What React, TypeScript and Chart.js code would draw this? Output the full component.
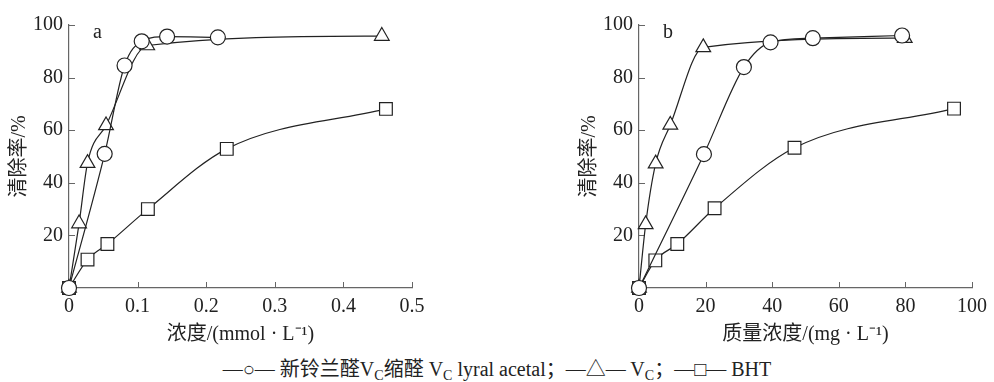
import React, { useEffect, useRef } from 'react';
import { Chart, registerables } from 'chart.js';

Chart.register(...registerables);

const FONT = "'Liberation Serif', 'Noto Sans CJK SC', serif";
const TEXT = '#222';
const AXIS = '#666';

// ---- Panel a (mmol/L) ----
const aLyralX = [0, 0.052, 0.081, 0.106, 0.143, 0.217];
const aLyralY = [0, 51, 84.6, 93.8, 95.6, 95.3];
const aVcX = [0, 0.0147, 0.027, 0.054, 0.114, 0.456];
const aVcY = [0, 24.5, 47.5, 61.8, 92.2, 95.8];
const aBhtX = [0, 0.027, 0.056, 0.115, 0.23, 0.462];
const aBhtY = [0, 10.8, 16.7, 30, 52.9, 68.1];
const aXTicks = [0, 0.1, 0.2, 0.3, 0.4, 0.5];

// ---- Panel b (mg/L) ----
const bLyralX = [0, 19.5, 31.5, 39.5, 52.2, 79];
const bLyralY = [0, 50.9, 84, 93.4, 95, 96];
const bVcX = [0, 2, 5, 9.4, 19.3, 79.8];
const bVcY = [0, 24.2, 47.3, 62, 91.5, 95];
const bBhtX = [0, 4.9, 11.5, 22.7, 46.7, 94.6];
const bBhtY = [0, 10.5, 16.7, 30.3, 53.3, 68.2];
const bXTicks = [0, 20, 40, 60, 80, 100];

const yTicks = [20, 40, 60, 80, 100];

const zip = (xs: number[], ys: number[]) => xs.map((x, i) => ({ x, y: ys[i] }));

const innerTicks = {
  id: 'innerTicks',
  beforeDatasetsDraw(chart: any, _args: any, opts: any) {
    const { ctx, chartArea, scales } = chart;
    const xs = scales.x;
    const ys = scales.y;
    ctx.save();
    ctx.strokeStyle = AXIS;
    ctx.lineWidth = 1;
    ctx.beginPath();
    xs.ticks.forEach((t: any) => {
      if (t.value === 0) return;
      const px = Math.round(xs.getPixelForValue(t.value)) + 0.5;
      ctx.moveTo(px, chartArea.bottom);
      ctx.lineTo(px, chartArea.bottom - 6);
    });
    ys.ticks.forEach((t: any) => {
      const py = Math.round(ys.getPixelForValue(t.value)) + 0.5;
      ctx.moveTo(chartArea.left, py);
      ctx.lineTo(chartArea.left + 6, py);
    });
    ctx.stroke();
    ctx.fillStyle = TEXT;
    ctx.font = `20px ${FONT}`;
    ctx.textBaseline = 'middle';
    ctx.textAlign = 'left';
    ctx.fillText(opts.letter || '', chartArea.left + 24, chartArea.top + 8);
    ctx.restore();
  },
};

const ds = (label: string, data: any[], style: string, radius: number) => ({
  label,
  data,
  borderColor: TEXT,
  borderWidth: 1.2,
  pointStyle: style,
  pointRadius: radius,
  pointBorderWidth: 1.2,
  pointBorderColor: TEXT,
  pointBackgroundColor: '#fff',
  cubicInterpolationMode: 'monotone' as const,
  clip: false as const,
});

function makeConfig(
  letter: string,
  lyral: any[],
  vc: any[],
  bht: any[],
  xTicks: number[],
  xTitle: string,
  padRight: number
): any {
  return {
    type: 'line',
    data: {
      datasets: [
        ds('新铃兰醛VC缩醛', lyral, 'circle', 7.5),
        ds('VC', vc, 'triangle', 8.5),
        ds('BHT', bht, 'rect', 9),
      ],
    },
    options: {
      animation: false,
      responsive: false,
      layout: { padding: { left: 0, top: 25, right: padRight, bottom: 0 } },
      plugins: {
        legend: { display: false },
        tooltip: { enabled: false },
        innerTicks: { letter },
      },
      scales: {
        x: {
          type: 'linear',
          min: xTicks[0],
          max: xTicks[xTicks.length - 1],
          afterBuildTicks: (s: any) => {
            s.ticks = xTicks.map((v) => ({ value: v }));
          },
          afterFit: (s: any) => {
            s.height = 62;
          },
          grid: { display: false, drawTicks: false },
          border: { display: true, color: AXIS, width: 1.2 },
          ticks: {
            color: TEXT,
            font: { family: FONT, size: 20 },
            padding: 7,
            maxRotation: 0,
            autoSkip: false,
            callback: (v: any) => String(v),
          },
          title: {
            display: true,
            text: xTitle,
            color: TEXT,
            font: { family: FONT, size: 20 },
            padding: { top: 0, bottom: 3 },
          },
        },
        y: {
          type: 'linear',
          min: 0,
          max: 100,
          afterBuildTicks: (s: any) => {
            s.ticks = yTicks.map((v) => ({ value: v }));
          },
          afterFit: (s: any) => {
            s.width = 69;
          },
          grid: { display: false, drawTicks: false },
          border: { display: true, color: AXIS, width: 1.2 },
          ticks: {
            color: TEXT,
            font: { family: FONT, size: 20 },
            padding: 6,
            autoSkip: false,
            callback: (v: any) => String(v),
          },
          title: {
            display: true,
            text: '清除率/%',
            color: TEXT,
            font: { family: FONT, size: 20 },
            padding: { top: 8, bottom: 0 },
          },
        },
      },
    },
    plugins: [innerTicks],
  };
}

export default function App() {
  const refA = useRef<HTMLCanvasElement>(null);
  const refB = useRef<HTMLCanvasElement>(null);

  useEffect(() => {
    const cA = new Chart(
      refA.current as HTMLCanvasElement,
      makeConfig('a', zip(aLyralX, aLyralY), zip(aVcX, aVcY), zip(aBhtX, aBhtY), aXTicks, '浓度/(mmol · L⁻¹)', 28)
    );
    const cB = new Chart(
      refB.current as HTMLCanvasElement,
      makeConfig('b', zip(bLyralX, bLyralY), zip(bVcX, bVcY), zip(bBhtX, bBhtY), bXTicks, '质量浓度/(mg · L⁻¹)', 15)
    );
    return () => {
      cA.destroy();
      cB.destroy();
    };
  }, []);

  const sub = { fontSize: '0.7em', verticalAlign: '-0.25em', lineHeight: 0 } as const;

  return (
    <div style={{ position: 'absolute', left: 0, top: 0, width: 994, height: 382, background: '#fff' }}>
      <canvas ref={refA} width={440} height={350} style={{ position: 'absolute', left: 0, top: 0, width: 440, height: 350 }} />
      <canvas ref={refB} width={424} height={350} style={{ position: 'absolute', left: 570, top: 0, width: 424, height: 350 }} />
      <div
        style={{
          position: 'absolute',
          left: 0,
          top: 357,
          width: 994,
          textAlign: 'center',
          fontFamily: FONT,
          fontSize: 20,
          lineHeight: '24px',
          color: TEXT,
          whiteSpace: 'nowrap',
        }}
      >
        —○— 新铃兰醛V<span style={sub}>C</span>缩醛 V<span style={sub}>C</span> lyral acetal；—△— V
        <span style={sub}>C</span>；—□— BHT
      </div>
    </div>
  );
}
